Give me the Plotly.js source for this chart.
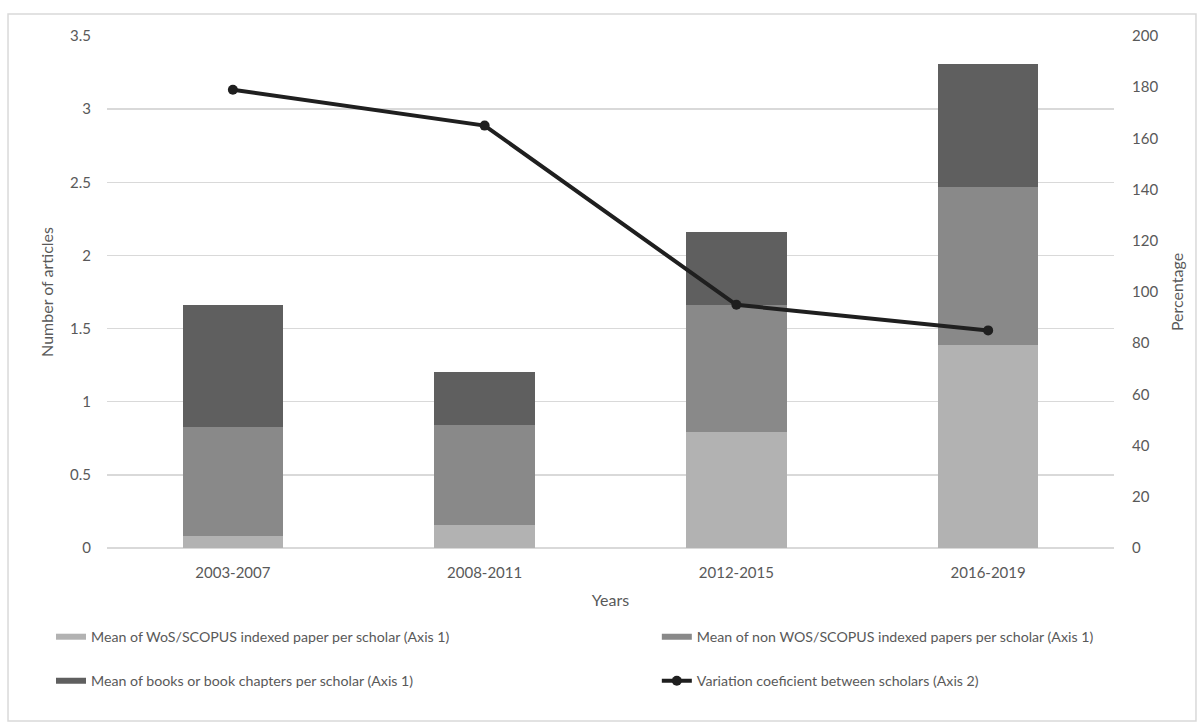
<!DOCTYPE html>
<html>
<head>
<meta charset="utf-8">
<script src="https://cdn.plot.ly/plotly-3.0.1.min.js"></script>
<style>
  html, body { margin: 0; padding: 0; background: #ffffff; }
  #chart { width: 1197px; height: 722px; }
</style>
</head>
<body>
<div id="chart"></div>
<script>
// Periods on the category axis
const periods = ['2003-2007', '2008-2011', '2012-2015', '2016-2019'];

// Mean number of publications per scholar (left axis, stacked)
const wosScopus = [0.08, 0.16, 0.79, 1.39];
const nonWosScopus = [0.75, 0.68, 0.87, 1.08];
const booksChapters = [0.83, 0.36, 0.50, 0.84];

// Variation coefficient between scholars, % (right axis)
const variationCoef = [179, 165, 95, 85];

// Series names
const nameWos = 'Mean of WoS/SCOPUS indexed paper per scholar (Axis 1)';
const nameNonWos = 'Mean of non WOS/SCOPUS indexed papers per scholar (Axis 1)';
const nameBooks = 'Mean of books or book chapters per scholar (Axis 1)';
const nameCoef = 'Variation coeficient between scholars (Axis 2)';

const colWos = '#b2b2b2';
const colNonWos = '#898989';
const colBooks = '#5f5f5f';
const colLine = '#1f1f1f';
const textCol = '#595959';
const fontFam = 'Lato, "Noto Sans", sans-serif';

function barTrace(y, name, color) {
  return {
    type: 'bar', x: periods, y: y, name: name,
    marker: { color: color, line: { width: 0 } },
    showlegend: false, hoverinfo: 'x+y'
  };
}

// Legend entries drawn as thick line swatches, one legend box per entry
function legendProxy(name, color, legendId) {
  return {
    type: 'scatter', mode: 'lines', x: [null], y: [null], name: name,
    line: { color: color, width: 6 }, legend: legendId, hoverinfo: 'skip'
  };
}

const traces = [
  barTrace(wosScopus, nameWos, colWos),
  barTrace(nonWosScopus, nameNonWos, colNonWos),
  barTrace(booksChapters, nameBooks, colBooks),
  {
    type: 'scatter', mode: 'lines+markers', x: periods, y: variationCoef,
    yaxis: 'y2', name: nameCoef, legend: 'legend4',
    line: { color: colLine, width: 4 },
    marker: { color: colLine, size: 10 },
    showlegend: true
  },
  legendProxy(nameWos, colWos, 'legend'),
  legendProxy(nameNonWos, colNonWos, 'legend2'),
  legendProxy(nameBooks, colBooks, 'legend3')
];

function legendAt(x, y) {
  return {
    orientation: 'h', xanchor: 'left', yanchor: 'middle', x: x, y: y,
    font: { family: fontFam, size: 14.2, color: textCol },
    bgcolor: 'rgba(0,0,0,0)', borderwidth: 0
  };
}

const layout = {
  width: 1197, height: 722,
  margin: { l: 107, r: 83, t: 36, b: 174, pad: 0 },
  paper_bgcolor: '#ffffff', plot_bgcolor: '#ffffff',
  font: { family: fontFam, size: 15, color: textCol },
  barmode: 'stack', bargap: 0.6,
  xaxis: {
    type: 'category', showgrid: false, zeroline: false, showline: false,
    ticks: '', ticklabelstandoff: 14,
    tickfont: { size: 15, color: textCol },
    title: { text: 'Years', font: { size: 16, color: textCol }, standoff: 14 }
  },
  yaxis: {
    range: [0, 3.5], dtick: 0.5, tick0: 0,
    showgrid: true, gridcolor: '#d9d9d9', gridwidth: 1.5,
    zeroline: true, zerolinecolor: '#d9d9d9', zerolinewidth: 1.5,
    showline: false, ticks: '', ticklabelstandoff: 15,
    tickfont: { size: 15, color: textCol },
    title: { text: 'Number of articles', font: { size: 16, color: textCol }, standoff: 12 }
  },
  yaxis2: {
    overlaying: 'y', side: 'right', range: [0, 200], dtick: 20, tick0: 0,
    showgrid: false, zeroline: false, showline: false, ticks: '',
    ticklabelstandoff: 17,
    tickfont: { size: 15, color: textCol },
    title: { text: 'Percentage', font: { size: 16, color: textCol }, standoff: 14 }
  },
  legend: legendAt(-0.0556, -0.1738),
  legend2: legendAt(0.546, -0.1738),
  legend3: legendAt(-0.0556, -0.2598),
  legend4: legendAt(0.546, -0.2598),
  shapes: [
    {
      type: 'rect', xref: 'paper', yref: 'paper',
      x0: -0.0983, x1: 1.0814, y0: -0.338, y1: 1.043,
      line: { color: '#d9d9d9', width: 1.5 }, fillcolor: 'rgba(0,0,0,0)',
      layer: 'below'
    }
  ]
};

Plotly.newPlot('chart', traces, layout, { displayModeBar: false, staticPlot: true });
</script>
</body>
</html>
